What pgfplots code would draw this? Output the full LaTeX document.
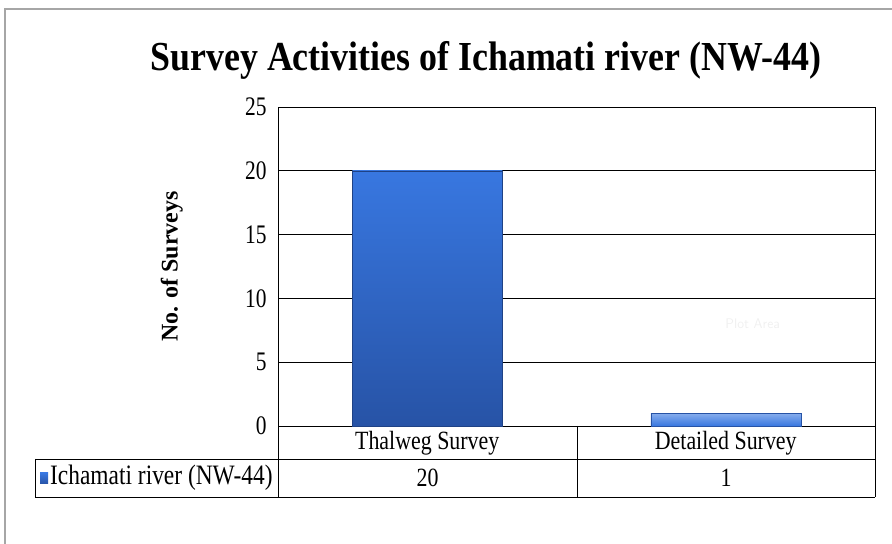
\documentclass[border=0pt]{standalone}
\usepackage{pgfplots}
\pgfplotsset{compat=1.18}
\usepackage{fontspec}
\setmainfont{Liberation Serif}
\definecolor{bartop}{HTML}{3877E0}
\definecolor{barbot}{HTML}{2753A6}
\definecolor{frame}{HTML}{A6A6A6}

\begin{document}
\begin{tikzpicture}[x=1bp,y=1bp]
  % canvas and outer chart frame
  \path[use as bounding box] (0,0) rectangle (892,544);
  \draw[frame,line width=1.2bp] (5,0) -- (5,535) -- (892,535);

  \begin{axis}[
      at={(278bp,118bp)}, anchor=south west,
      scale only axis,
      width=597bp, height=319bp,
      xmin=-0.5, xmax=1.5,
      ymin=0, ymax=25,
      xtick={0,1},
      xticklabels={Thalweg Survey, Detailed Survey},
      xticklabel style={anchor=center, yshift=-17.5bp, yscale=1.2, font=\fontsize{22}{24}\selectfont},
      major x tick style={draw=none},
      ytick={0,5,...,25},
      yticklabel style={font=\fontsize{21.5}{24}\selectfont, xshift=-8bp, yscale=1.25},
      /pgf/number format/assume math mode=true,
      major y tick style={draw=none},
      ymajorgrids,
      grid style={black, line width=0.8bp},
      axis line style={black, line width=0.8bp},
      ylabel={\textbf{No. of Surveys}},
      ylabel style={at={(axis description cs:-0.178,0.5)}, anchor=center,
                    font=\fontsize{24}{26}\selectfont},
      clip=false,
    ]
    \addplot[ybar, bar width=150bp, bar shift=0pt, draw=barbot!80!black, line width=0.4bp,
             top color=bartop, bottom color=barbot] coordinates {
      (0,20)
    };
    \addplot[ybar, bar width=150bp, bar shift=0pt, draw=barbot, line width=0.4bp,
             top color=bartop!60!white, bottom color=bartop] coordinates {
      (1,1)
    };
    % faint hover hint left in the original screenshot
    \node[text=black!6, font=\fontsize{14}{16}\selectfont\sffamily] at (axis cs:1.09,8.0) {Plot Area};
  \end{axis}

  % data table under the axis
  \draw[black, line width=0.8bp] (278,118) -- (278,47);
  \draw[black, line width=0.8bp] (577,118) -- (577,47);
  \draw[black, line width=0.8bp] (875,118) -- (875,47);
  \draw[black, line width=0.8bp] (35,85) -- (875,85);
  \draw[black, line width=0.8bp] (35,47) -- (875,47);
  \draw[black, line width=0.8bp] (35,85) -- (35,47);
  \fill[top color=bartop, bottom color=barbot] (40,60) rectangle (48,71);
  \node[anchor=west, inner sep=0, yscale=1.2, font=\fontsize{23.5}{24}\selectfont] at (50,66) {Ichamati river (NW-44)};
  \node[yscale=1.2, font=\fontsize{22}{24}\selectfont] at (427.5,66) {20};
  \node[yscale=1.2, font=\fontsize{22}{24}\selectfont] at (726,66) {1};

  % title
  \node[yscale=1.15, font=\fontsize{36}{40}\selectfont\bfseries] at (486,484) {Survey Activities of Ichamati river (NW-44)};
\end{tikzpicture}
\end{document}
